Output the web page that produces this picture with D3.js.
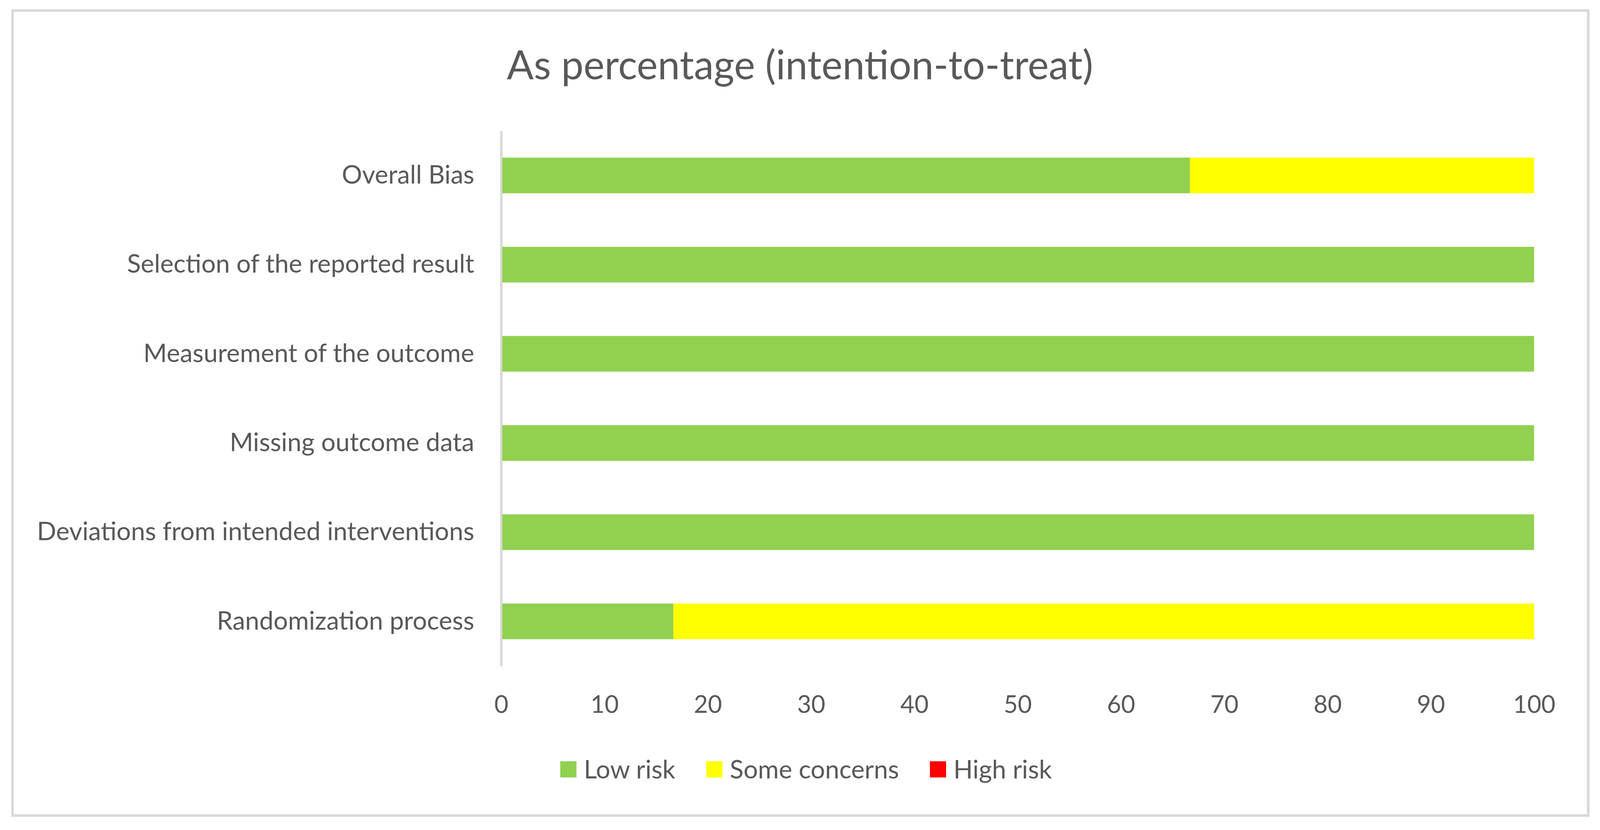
<!DOCTYPE html>
<html lang="en">
    <head>
        <meta charset="utf-8">
        <title>As percentage (intention-to-treat)</title>
        <script src="https://cdn.jsdelivr.net/npm/d3@7/dist/d3.min.js" charset="utf-8"></script>
        <style>
            html, body { margin: 0; padding: 0; background: #ffffff; overflow: hidden; }
            #chart svg { display: block; }
            text { font-family: Lato, "Open Sans", sans-serif; fill: #595959; }
        </style>
    </head>
    <body>
        <div id="chart"></div>
        <script>
            // datos
            var categories = [
                "Overall Bias",
                "Selection of the reported result",
                "Measurement of the outcome",
                "Missing outcome data",
                "Deviations from intended interventions",
                "Randomization process"
            ];
            var seriesNames = ["Low risk", "Some concerns", "High risk"];
            var seriesColors = ["#92d050", "#ffff00", "#ff0000"];
            var lowRisk = [66.67, 100, 100, 100, 100, 16.67];
            var someConcerns = [33.33, 0, 0, 0, 0, 83.33];
            var highRisk = [0, 0, 0, 0, 0, 0];
            var xTicks = [0, 10, 20, 30, 40, 50, 60, 70, 80, 90, 100];

            var W = 4345, H = 2125;
            // la ventana real puede tener otra proporcion: se estira solo en vertical
            var vw = window.innerWidth || W, vh = window.innerHeight || H;
            var VH = W * vh / vw;
            var k = VH / H;
            function Y(v) { return v * k; }

            var margin = { top: 335, right: 179, bottom: 420, left: 1361 };
            var width = W - margin.left - margin.right,
                height = Y(H - margin.bottom) - Y(margin.top);

            var datos = categories.map(function(c, i) {
                return { cat: c, "Low risk": lowRisk[i], "Some concerns": someConcerns[i], "High risk": highRisk[i] };
            });

            var svg = d3.select("#chart").append("svg")
                .attr("width", vw)
                .attr("height", vh)
                .attr("viewBox", "0 0 " + W + " " + VH);

            // borde exterior
            svg.append("rect")
                .attr("x", 34).attr("y", Y(27))
                .attr("width", 4279).attr("height", Y(2088) - Y(27))
                .style("fill", "none")
                .style("stroke", "#d9d9d9")
                .style("stroke-width", 7);

            svg.append("text")
                .attr("x", W / 2)
                .attr("y", Y(203))
                .style("text-anchor", "middle")
                .style("font-size", "108px")
                .text("As percentage (intention-to-treat)");

            var g = svg.append("g")
                .attr("transform", "translate(" + margin.left + "," + Y(margin.top) + ")");

            var x = d3.scaleLinear().domain([0, 100]).range([0, width]);
            var y = d3.scaleBand().domain(categories).range([0, height]).paddingInner(0.6).paddingOuter(0.3);
            var color = d3.scaleOrdinal().domain(seriesNames).range(seriesColors);

            var stack = d3.stack().keys(seriesNames)(datos);

            // eje vertical (categorias)
            var yAxis = d3.axisLeft(y).tickSize(0).tickPadding(73);
            var gy = g.append("g").call(yAxis);
            gy.select(".domain").style("stroke", "#d9d9d9").style("stroke-width", 7);
            gy.selectAll("text")
                .style("font-size", "69px")
                .style("font-family", "Lato, sans-serif")
                .attr("fill", "#595959");

            g.selectAll(".serie")
                .data(stack)
                .enter()
                .append("g")
                .attr("class", "serie")
                .style("fill", function(d) { return color(d.key); })
                .selectAll("rect")
                .data(function(d) { return d; })
                .enter()
                .append("rect")
                .attr("x", function(d) { return x(d[0]) + (d[0] === 0 ? 3 : 0); })
                .attr("width", function(d) { return Math.max(0, x(d[1]) - x(d[0]) - (d[0] === 0 ? 3 : 0)); })
                .attr("y", function(d) { return y(d.data.cat); })
                .attr("height", y.bandwidth());

            // eje horizontal sin linea
            var xAxis = d3.axisBottom(x).tickValues(xTicks).tickSize(0).tickPadding(Y(120) - 47);
            var gx = g.append("g").attr("transform", "translate(0," + height + ")").call(xAxis);
            gx.select(".domain").remove();
            gx.selectAll("text")
                .style("font-size", "66px")
                .style("font-family", "Lato, sans-serif")
                .attr("fill", "#595959");

            // leyenda
            var leyenda = svg.append("g");
            var xPos = 0;
            seriesNames.forEach(function(name, i) {
                var item = leyenda.append("g").attr("transform", "translate(" + xPos + ",0)");
                item.append("rect")
                    .attr("x", 0).attr("y", Y(1949))
                    .attr("width", 44).attr("height", 44)
                    .style("fill", color(name));
                var t = item.append("text")
                    .attr("x", 64).attr("y", Y(1993))
                    .style("font-size", "69px")
                    .text(name);
                xPos += 64 + t.node().getComputedTextLength() + 84;
            });
            var total = xPos - 84;
            leyenda.attr("transform", "translate(" + (2189 - total / 2) + ",0)");
        </script>
    </body>
</html>
